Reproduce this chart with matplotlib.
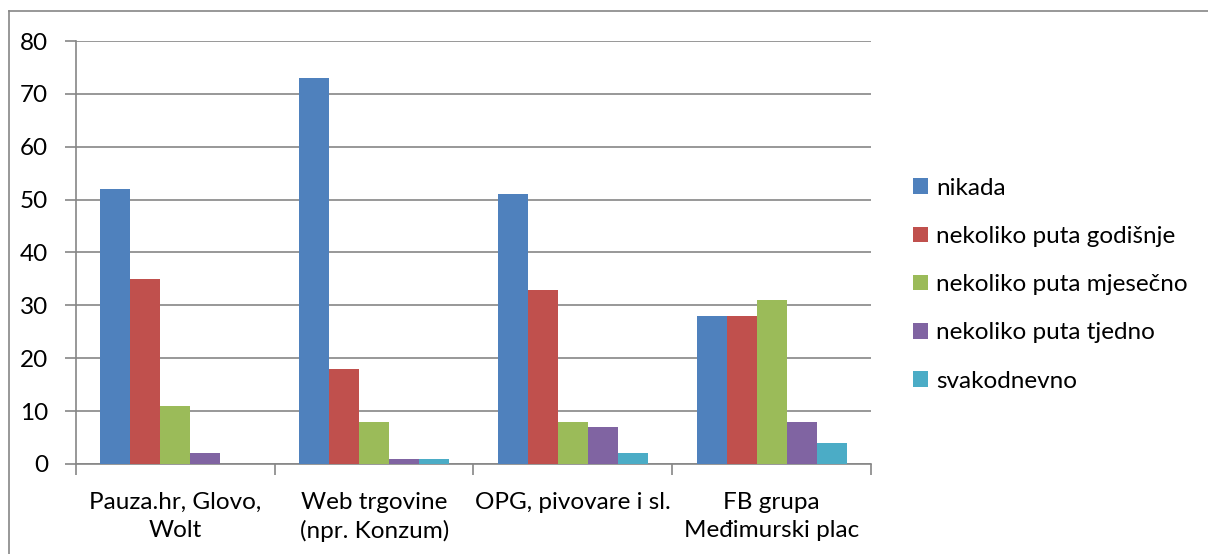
import numpy as np
import matplotlib.pyplot as plt
from matplotlib.lines import Line2D

categories = ['Pauza.hr, Glovo,\nWolt', 'Web trgovine\n(npr. Konzum)',
              'OPG, pivovare i sl.', 'FB grupa\nMeđimurski plac']
series = ['nikada', 'nekoliko puta godišnje', 'nekoliko puta mjesečno',
          'nekoliko puta tjedno', 'svakodnevno']
nikada = [52, 73, 51, 28]
godisnje = [35, 18, 33, 28]
mjesecno = [11, 8, 8, 31]
tjedno = [2, 1, 7, 8]
svakodnevno = [0, 1, 2, 4]
colors = ['#4F81BD', '#C0504D', '#9BBB59', '#8064A2', '#4BACC6']

plt.rcParams['font.family'] = ['Lato', 'DejaVu Sans']
fs = 17.5

fig = plt.figure(figsize=(12.08, 5.54), dpi=100)
ax = fig.add_axes([76 / 1208, 1 - 464 / 554, 795 / 1208, 423 / 554])

values = [nikada, godisnje, mjesecno, tjedno, svakodnevno]
x = np.arange(len(categories))
w = 0.151
for i, (vals, lab) in enumerate(zip(values, series)):
    ax.bar(x + (i - 2) * w, vals, w, color=colors[i], label=lab, zorder=3)

gridc = '#868686'
ax.set_xlim(-0.5, 3.5)
ax.set_ylim(0, 80)
ax.set_yticks(range(0, 81, 10))
ax.yaxis.grid(True, color=gridc, linewidth=1.2, zorder=0)
for s in ['top', 'right']:
    ax.spines[s].set_visible(False)
for s in ['left', 'bottom']:
    ax.spines[s].set_color(gridc)
    ax.spines[s].set_linewidth(1.2)

ax.set_xticks(np.arange(-0.5, 4, 1))
ax.set_xticklabels([])
ax.set_xticks(x, minor=True)
ax.set_xticklabels(categories, minor=True, fontsize=fs, linespacing=1.4)
ax.tick_params(axis='x', which='major', length=8, color=gridc, width=1.2)
ax.tick_params(axis='x', which='minor', length=0, pad=20)
ax.tick_params(axis='y', length=8, color=gridc, width=1.2, labelsize=fs, pad=12)

ax.legend(loc='center left', bbox_to_anchor=(1.053, 0.424), frameon=False,
          fontsize=fs, handlelength=0.6, handleheight=0.6, handletextpad=0.35,
          labelspacing=1.12, borderpad=0, borderaxespad=0)

# outer chart border (top and left visible)
fig.add_artist(Line2D([9 / 1208, 9 / 1208], [0, 1 - 11 / 554], color=gridc, lw=1.2))
fig.add_artist(Line2D([9 / 1208, 1], [1 - 11 / 554, 1 - 11 / 554], color=gridc, lw=1.2))

fig.savefig('out.png', dpi=100)
